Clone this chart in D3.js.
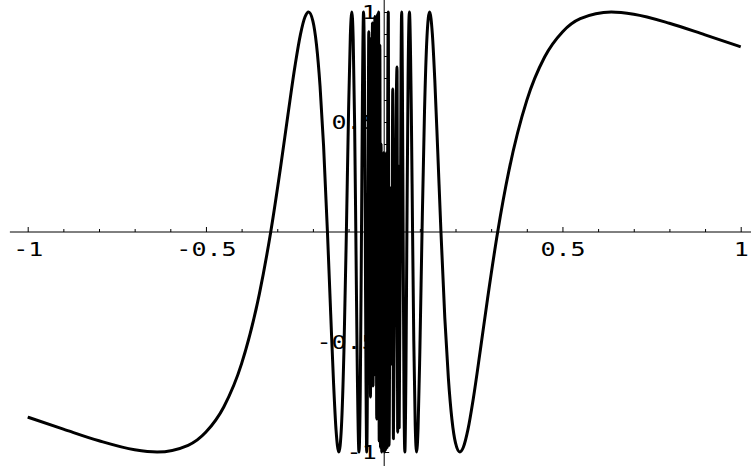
<!DOCTYPE html>
<html>
<head>
<meta charset="utf-8">
<script src="https://cdn.jsdelivr.net/npm/d3@7"></script>
<style>
  html, body { margin: 0; padding: 0; background: #fff; }
  svg { display: block; }
  .tick text { font-family: "DejaVu Sans Mono", monospace; font-size: 20px; fill: #000; }
</style>
</head>
<body>
<div id="chart"></div>
<script>
const curveX = [
  -1, -0.9, -0.8, -0.7, -0.637, -0.55, -0.5, -0.45, -0.4, -0.35, -0.3183,
  -0.29, -0.27, -0.25, -0.235, -0.222, -0.2122, -0.2, -0.19, -0.18, -0.17, -0.1592,
  -0.15, -0.142, -0.135, -0.1273, -0.12, -0.113, -0.1061,
  -0.1, -0.095, -0.0909, -0.087, -0.083, -0.0796,
  -0.076, -0.0707, -0.067, -0.0637, -0.061, -0.0579, -0.0555, -0.0531,
  -0.051, -0.049, -0.0472, -0.0455,
  -0.0432, -0.0412, -0.0398, -0.0385, -0.0365, -0.0348, -0.033, -0.0312, -0.0295,
  -0.028, -0.0262, -0.0245, -0.0228, -0.021, -0.019, -0.0172, -0.0158, -0.014,
  -0.0122, -0.0105, -0.0088, -0.007, -0.005, -0.0032, -0.0012, 0.0008, 0.0025,
  0.0042, 0.0062, 0.008, 0.01, 0.0115, 0.0135, 0.0175, 0.021, 0.024, 0.0258,
  0.031, 0.036, 0.0378, 0.0398, 0.042,
  0.0455, 0.0472, 0.049, 0.051, 0.0531, 0.0555, 0.0579, 0.061, 0.0637,
  0.067, 0.0707, 0.076, 0.0796, 0.083, 0.087, 0.0909, 0.095, 0.1, 0.1061,
  0.113, 0.12, 0.1273, 0.135, 0.142, 0.15, 0.1592,
  0.17, 0.18, 0.19, 0.2, 0.2122, 0.222, 0.235, 0.25, 0.27, 0.29, 0.3183,
  0.35, 0.4, 0.45, 0.5, 0.55, 0.637, 0.7, 0.8, 0.9, 1
];
const curveY = [
  -0.8415, -0.896, -0.949, -0.9898, -1, -0.9696, -0.9093, -0.7953, -0.5985, -0.28, 0,
  0.302, 0.533, 0.7568, 0.8974, 0.9784, 1, 0.9589, 0.8523, 0.6642, 0.3902, 0,
  -0.3742, -0.6882, -0.902, -1, -0.887, -0.5443, 0,
  0.544, 0.8916, 1, 0.8786, 0.4944, 0,
  -0.5577, -1, -0.705, 0, 0.6327, 1, 0.7392, 0,
  -0.6873, -1, -0.7215, 0,
  0.91, -0.2, 0.55, -0.75, 0.88, -0.45, 0.95, -0.7, 0.8,
  -0.65, 0.98, -0.55, 0.9, -0.85, 0.99, -0.4, 1, -0.95,
  0.85, -0.98, 0.4, -1, 0.3, -0.99, 0.36, -1, 0.2,
  -0.99, 0.36, -0.98, 0.6, 1, -0.97, 0.2, -0.6, 0.65, -0.94,
  0.1, 0.75, -0.91, 0.3, -0.89,
  0, 0.7215, 1, 0.6873, 0, -0.7392, -1, -0.6327, 0,
  0.705, 1, 0.5577, 0, -0.4944, -0.8786, -1, -0.8916, -0.544, 0,
  0.5443, 0.887, 1, 0.902, 0.6882, 0.3742, 0,
  -0.3902, -0.6642, -0.8523, -0.9589, -1, -0.9784, -0.8974, -0.7568, -0.533, -0.302, 0,
  0.28, 0.5985, 0.7953, 0.9093, 0.9696, 1, 0.9898, 0.949, 0.896, 0.8415
];

const xMajorTicks = [-1, -0.5, 0.5, 1];
const xTickLabels = ['-1', '-0.5', '0.5', '1'];
const yMajorTicks = [-1, -0.5, 0.5, 1];
const yTickLabels = ['-1', '-0.5', '0.5', '1'];
const minorTicks = [-0.9, -0.8, -0.7, -0.6, -0.4, -0.3, -0.2, -0.1,
  0.1, 0.2, 0.3, 0.4, 0.6, 0.7, 0.8, 0.9];

const width = 751;
const height = 466;
const glyphStretch = 1.25;

const x = d3.scaleLinear().domain([-1, 1]).range([27.7, 740.7]);
const y = d3.scaleLinear().domain([-1, 1]).range([452, 12]);

const svg = d3.select('#chart').append('svg')
  .attr('width', width)
  .attr('height', height);

// axes lines cross at the origin
svg.append('line')
  .attr('x1', x(-1.05)).attr('x2', width)
  .attr('y1', y(0)).attr('y2', y(0))
  .attr('stroke', '#000').attr('stroke-width', 1);

svg.append('line')
  .attr('x1', x(0)).attr('x2', x(0))
  .attr('y1', 0).attr('y2', height)
  .attr('stroke', '#000').attr('stroke-width', 1);

// x ticks point up, labels below
svg.append('g')
  .attr('transform', `translate(0,${y(0)})`)
  .call(d3.axisBottom(x).tickValues(minorTicks).tickSizeInner(-3).tickSizeOuter(0).tickFormat(''))
  .call((g) => g.select('.domain').remove());

const xAxis = svg.append('g')
  .attr('transform', `translate(0,${y(0)})`)
  .call(d3.axisBottom(x)
    .tickValues(xMajorTicks)
    .tickSizeInner(-5)
    .tickSizeOuter(0)
    .tickPadding(10)
    .tickFormat((d, i) => xTickLabels[i]))
  .call((g) => g.select('.domain').remove());
xAxis.selectAll('.tick text')
  .attr('transform', `scale(${glyphStretch},1)`);

// y ticks point right, labels left of the axis
svg.append('g')
  .attr('transform', `translate(${x(0)},0)`)
  .call(d3.axisLeft(y).tickValues(minorTicks).tickSizeInner(-3).tickSizeOuter(0).tickFormat(''))
  .call((g) => g.select('.domain').remove());

const yAxis = svg.append('g')
  .attr('transform', `translate(${x(0)},0)`)
  .call(d3.axisLeft(y)
    .tickValues(yMajorTicks)
    .tickSizeInner(-5)
    .tickSizeOuter(0)
    .tickPadding(6)
    .tickFormat((d, i) => yTickLabels[i]))
  .call((g) => g.select('.domain').remove());
yAxis.selectAll('.tick text')
  .attr('transform', `scale(${glyphStretch},1)`);

svg.selectAll('.tick line').attr('stroke', '#000');

const points = curveX.map((v, i) => [v, curveY[i]]);
const line = d3.line()
  .x((d) => x(d[0]))
  .y((d) => y(d[1]))
  .curve(d3.curveMonotoneX);

svg.append('path')
  .datum(points)
  .attr('fill', 'none')
  .attr('stroke', '#000')
  .attr('stroke-width', 3)
  .attr('stroke-linejoin', 'round')
  .attr('d', line);
</script>
</body>
</html>
